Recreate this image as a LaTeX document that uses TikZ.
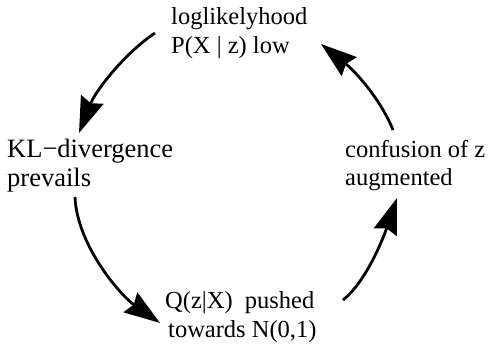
\documentclass[tikz,border=0pt]{standalone}
\usepackage{fontspec}
\setmainfont{Liberation Serif}
\usetikzlibrary{arrows.meta}
\begin{document}
\begin{tikzpicture}[x=1pt,y=-1pt,
  lbl/.style={anchor=base west,inner sep=0pt,font=\rmfamily\fontsize{24.5}{29}\selectfont},
  lblbig/.style={lbl,font=\rmfamily\fontsize{26.5}{29}\selectfont},
  cyc/.style={line width=2.8pt,-{Stealth[length=36pt,width=24pt,inset=4pt]}}]
\useasboundingbox (0,0) rectangle (493,349);
% labels
\node[lbl] (t1) at (171,24) {loglikelyhood};
\node[lbl] (t2) at (171,53) {P(X | z) low};
\node[lblbig] (l1) at (7,157) {KL−divergence};
\node[lblbig] (l2) at (7,186) {prevails};
\node[lbl] (r1) at (345,157) {confusion of z};
\node[lbl] (r2) at (345,185) {augmented};
\node[lbl] (b1) at (165,308) {Q(z|X)\ \ pushed};
\node[lbl] (b2) at (168,337) {towards N(0,1)};
% arrow end points
\coordinate (a1s) at (155,33);  \coordinate (a1e) at (79,133);
\coordinate (a2s) at (75,197);  \coordinate (a2e) at (160,323);
\coordinate (a3s) at (343,300); \coordinate (a3e) at (397,198);
\coordinate (a4s) at (393,130); \coordinate (a4e) at (321,44);
\draw[cyc] (a1s) .. controls (125,53) and (96,90) .. (a1e);
\draw[cyc] (a2s) .. controls (77,245) and (120,295) .. (a2e);
\draw[cyc] (a3s) .. controls (368,280) and (385,233) .. (a3e);
\draw[cyc] (a4s) .. controls (381,100) and (356,72) .. (a4e);
\end{tikzpicture}
\end{document}
